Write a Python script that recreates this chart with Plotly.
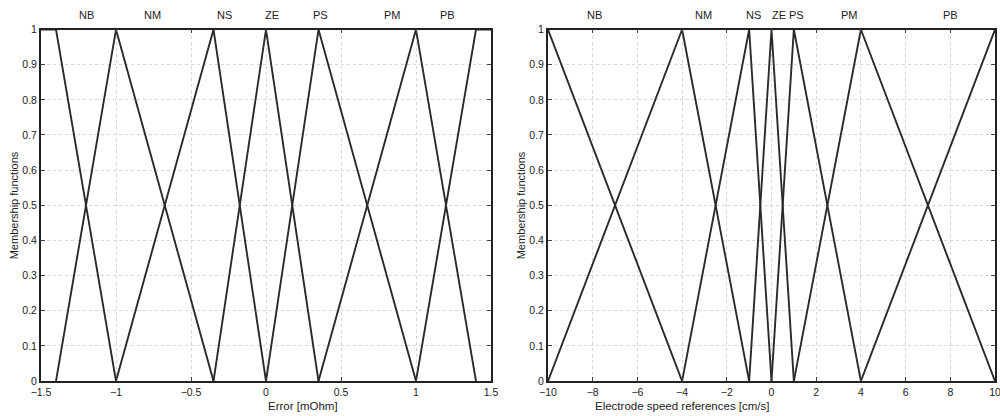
import plotly.graph_objects as go

# ---- data ----
mf_names = ["NB", "NM", "NS", "ZE", "PS", "PM", "PB"]

err_x = [
    [-1.5, -1.4, -1.0],
    [-1.4, -1.0, -0.35],
    [-1.0, -0.35, 0.0],
    [-0.35, 0.0, 0.35],
    [0.0, 0.35, 1.0],
    [0.35, 1.0, 1.4],
    [1.0, 1.4, 1.5],
]
err_y = [
    [1, 1, 0],
    [0, 1, 0],
    [0, 1, 0],
    [0, 1, 0],
    [0, 1, 0],
    [0, 1, 0],
    [0, 1, 1],
]

spd_x = [
    [-10, -4],
    [-10, -4, -1],
    [-4, -1, 0],
    [-1, 0, 1],
    [0, 1, 4],
    [1, 4, 10],
    [4, 10],
]
spd_y = [
    [1, 0],
    [0, 1, 0],
    [0, 1, 0],
    [0, 1, 0],
    [0, 1, 0],
    [0, 1, 0],
    [0, 1],
]

err_label_x = [-1.2, -0.76, -0.28, 0.04, 0.36, 0.84, 1.21]
spd_label_x = [-7.9, -3.05, -0.8, 0.35, 1.1, 3.5, 8.0]

err_ticks = [-1.5, -1, -0.5, 0, 0.5, 1, 1.5]
err_ticktext = ["\u22121.5", "\u22121", "\u22120.5", "0", "0.5", "1", "1.5"]
spd_ticks = [-10, -8, -6, -4, -2, 0, 2, 4, 6, 8, 10]
spd_ticktext = ["\u221210", "\u22128", "\u22126", "\u22124", "\u22122", "0", "2", "4", "6", "8", "10"]
y_ticks = [0, 0.1, 0.2, 0.3, 0.4, 0.5, 0.6, 0.7, 0.8, 0.9, 1]
y_ticktext = ["0", "0.1", "0.2", "0.3", "0.4", "0.5", "0.6", "0.7", "0.8", "0.9", "1"]

err_title = "Error [mOhm]"
spd_title = "Electrode speed references [cm/s]"
y_title = "Membership functions"

# ---- figure ----
FONT = "Liberation Sans, Arial, sans-serif"
TXT = "#222"
LINE = dict(color="#2a2a2a", width=1.9)

fig = go.Figure()
for xs, ys in zip(err_x, err_y):
    fig.add_trace(go.Scatter(x=xs, y=ys, mode="lines", line=LINE,
                             xaxis="x", yaxis="y", showlegend=False, hoverinfo="skip"))
for xs, ys in zip(spd_x, spd_y):
    fig.add_trace(go.Scatter(x=xs, y=ys, mode="lines", line=LINE,
                             xaxis="x2", yaxis="y2", showlegend=False, hoverinfo="skip"))

common_axis = dict(
    showline=True, linecolor="#222", linewidth=1.9, mirror="ticks",
    ticks="inside", ticklen=4, tickcolor="#444", tickwidth=1,
    showgrid=True, gridcolor="#d6d6d6", griddash="dot", gridwidth=1,
    zeroline=False, automargin=False, ticklabeloverflow="allow",
    tickfont=dict(family=FONT, size=10.5, color=TXT),
)

L_DOM = [0.041, 0.491]
R_DOM = [0.548, 0.995]
Y_DOM = [0.084, 0.929]

fig.update_layout(
    width=1000, height=416,
    margin=dict(l=0, r=0, t=0, b=0, autoexpand=False),
    paper_bgcolor="white", plot_bgcolor="white",
    font=dict(family=FONT, size=10.5, color=TXT),
    xaxis=dict(domain=L_DOM, range=[-1.5, 1.5], anchor="y",
               tickvals=err_ticks, ticktext=err_ticktext, **common_axis),
    yaxis=dict(domain=Y_DOM, range=[0, 1], anchor="x",
               tickvals=y_ticks, ticktext=y_ticktext, **common_axis),
    xaxis2=dict(domain=R_DOM, range=[-10, 10], anchor="y2",
                tickvals=spd_ticks, ticktext=spd_ticktext, **common_axis),
    yaxis2=dict(domain=Y_DOM, range=[0, 1], anchor="x2",
                tickvals=y_ticks, ticktext=y_ticktext, **common_axis),
)

lab_font = dict(family=FONT, size=11, color=TXT)
title_font = dict(family=FONT, size=11.5, color=TXT)
for name, lx in zip(mf_names, err_label_x):
    fig.add_annotation(x=lx, y=1 - 15 / 416, xref="x", yref="paper", text=name,
                       yanchor="middle", showarrow=False, font=lab_font)
for name, lx in zip(mf_names, spd_label_x):
    fig.add_annotation(x=lx, y=1 - 15 / 416, xref="x2", yref="paper", text=name,
                       yanchor="middle", showarrow=False, font=lab_font)

# axis titles
fig.add_annotation(x=sum(L_DOM) / 2, y=1 - 406 / 416, xref="paper", yref="paper",
                   text=err_title, yanchor="middle", showarrow=False, font=title_font)
fig.add_annotation(x=sum(R_DOM) / 2, y=1 - 406 / 416, xref="paper", yref="paper",
                   text=spd_title, yanchor="middle", showarrow=False, font=title_font)
fig.add_annotation(x=0.014, y=sum(Y_DOM) / 2, xref="paper", yref="paper",
                   text=y_title, textangle=-90, xanchor="center", yanchor="middle",
                   showarrow=False, font=lab_font)
fig.add_annotation(x=0.521, y=sum(Y_DOM) / 2, xref="paper", yref="paper",
                   text=y_title, textangle=-90, xanchor="center", yanchor="middle",
                   showarrow=False, font=lab_font)

fig.write_html(
    "out.html",
    config={"displayModeBar": False},
    post_script="document.body.style.margin='0';document.body.style.overflow='hidden';",
)
